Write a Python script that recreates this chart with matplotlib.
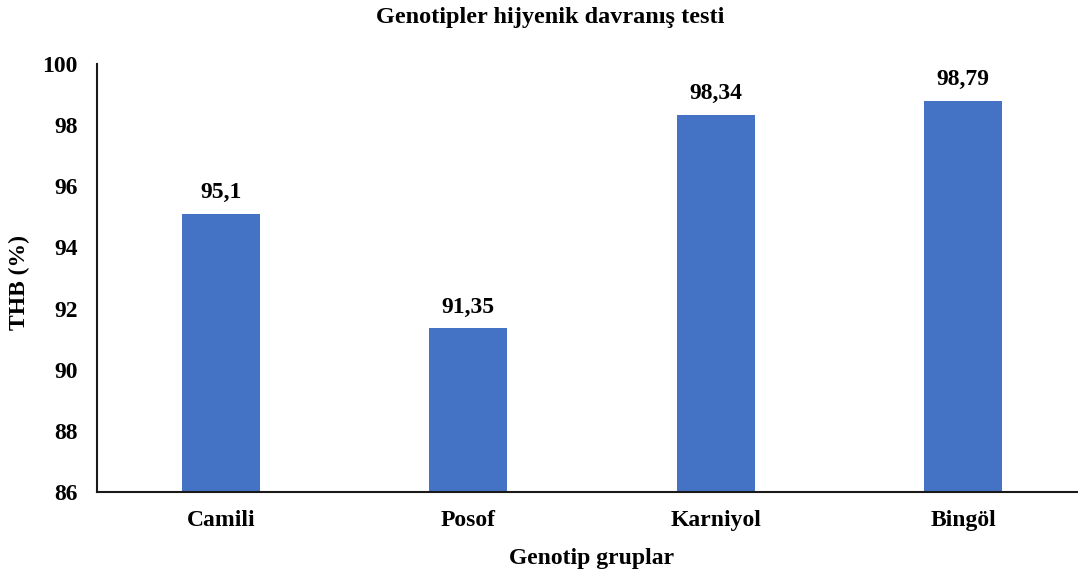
import matplotlib
matplotlib.use("Agg")
import matplotlib.pyplot as plt

categories = ["Camili", "Posof", "Karniyol", "Bingöl"]
values = [95.1, 91.35, 98.34, 98.79]
value_labels = ["95,1", "91,35", "98,34", "98,79"]
yticks = [86, 88, 90, 92, 94, 96, 98, 100]

plt.rcParams['font.family'] = ['Liberation Serif', 'DejaVu Serif']
plt.rcParams['font.weight'] = 'bold'

fig = plt.figure(figsize=(10.78, 5.74), dpi=100)
ax = fig.add_axes([97/1078, 1-492/574, 990/1078, (492-64)/574])

x = list(range(len(categories)))
ax.bar(x, values, width=0.315, color="#4472C4", bottom=0)
for xi, v, lab in zip(x, values, value_labels):
    ax.text(xi, v + 0.52, lab, ha="center", va="baseline", fontsize=17, fontweight="bold")

ax.set_xlim(-0.5, 3.5)
ax.set_ylim(86, 100)
ax.set_yticks(yticks)
ax.set_xticks(x)
ax.set_xticklabels(categories)
ax.tick_params(axis="both", length=0, labelsize=17)
ax.tick_params(axis="x", pad=13)
ax.tick_params(axis="y", pad=14)
for t in ax.get_xticklabels() + ax.get_yticklabels():
    t.set_fontweight("bold")

for s in ["top", "right"]:
    ax.spines[s].set_visible(False)
for s in ["left", "bottom"]:
    ax.spines[s].set_color("#1a1a1a")
    ax.spines[s].set_linewidth(1.5)

ax.set_xlabel("Genotip gruplar", fontsize=17, fontweight="bold", labelpad=12)
ax.set_ylabel("THB (%)", fontsize=17, fontweight="bold")
ax.yaxis.set_label_coords(-67/990, 0.49)
fig.text(550/1078, 1-17/574, "Genotipler hijyenik davranış testi", ha="center", va="center",
         fontsize=17.5, fontweight="bold")

fig.savefig("out.png", dpi=100)
